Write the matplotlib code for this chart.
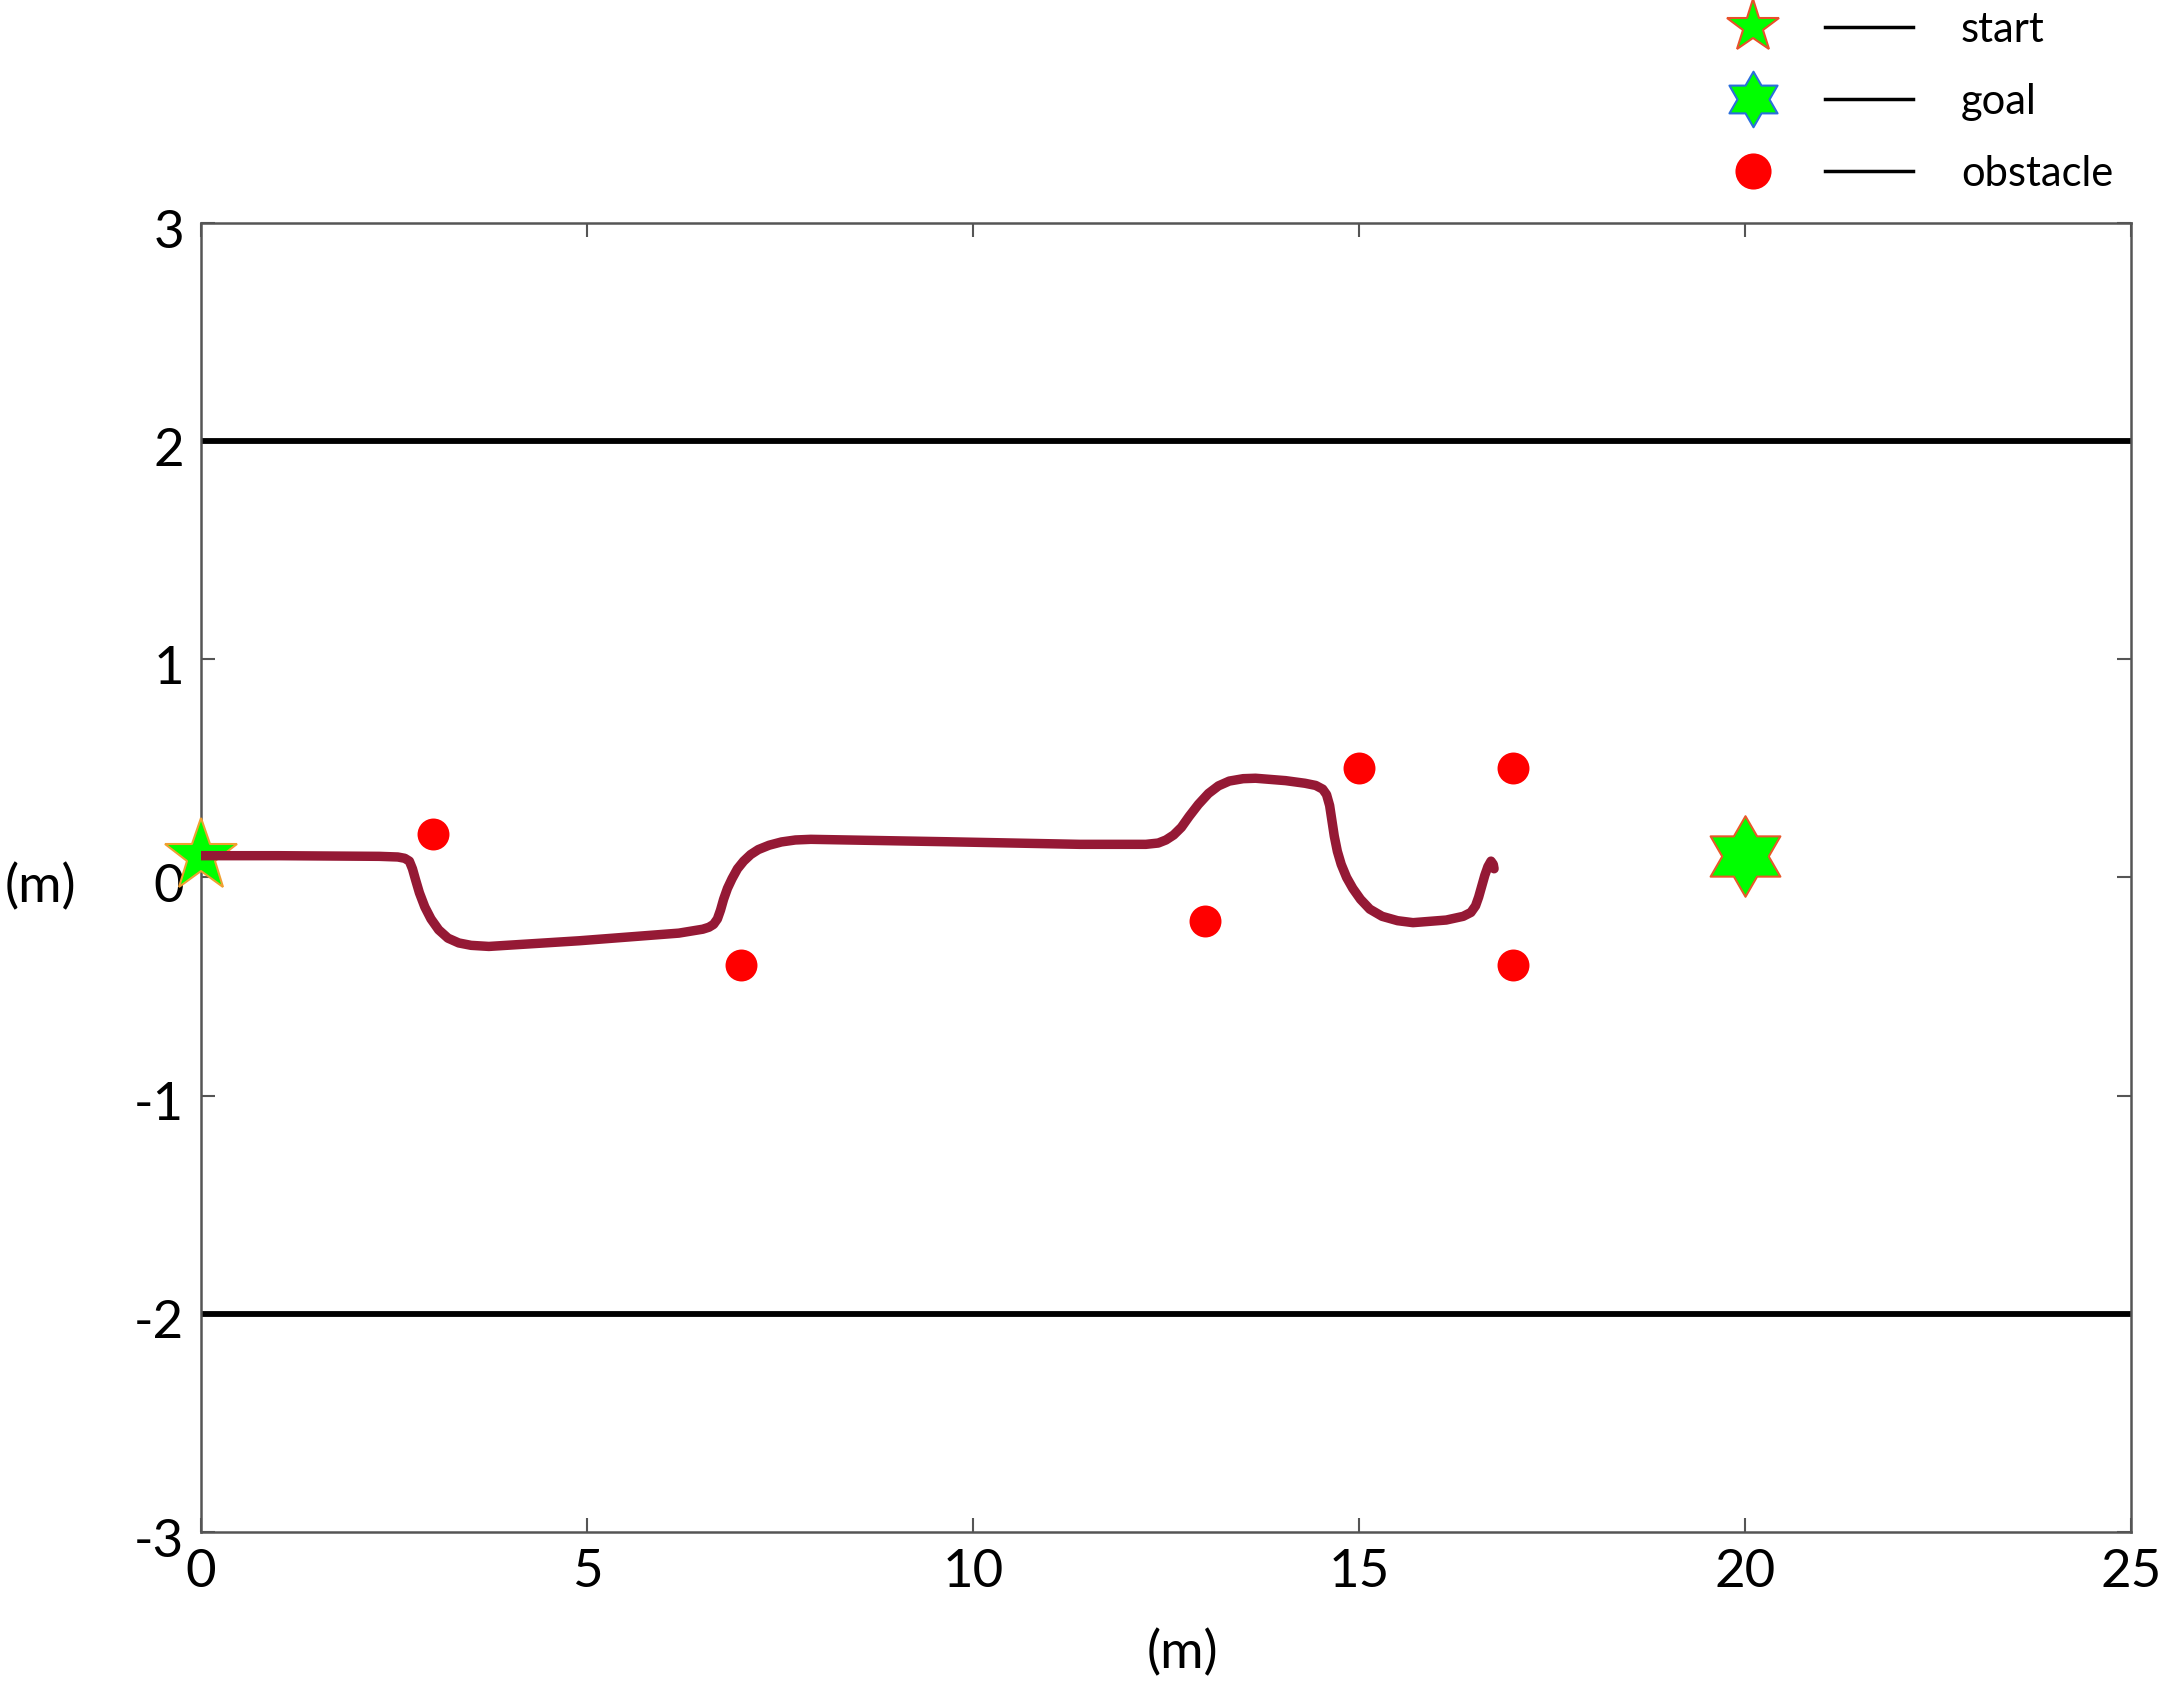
import matplotlib
matplotlib.use("Agg")
import matplotlib.pyplot as plt
import numpy as np
from matplotlib.legend_handler import HandlerTuple
from matplotlib.lines import Line2D
from matplotlib.path import Path
from matplotlib.transforms import ScaledTranslation

plt.rcParams["font.family"] = ["Lato", "DejaVu Sans"]
plt.rcParams["axes.unicode_minus"] = False

# planned trajectory
path_x = [0.0, 1.0, 2.31, 2.55, 2.64, 2.70, 2.74, 2.78, 2.83, 2.90, 2.98, 3.08,
          3.20, 3.34, 3.50, 3.73, 4.90, 6.19, 6.50, 6.58, 6.64, 6.69, 6.73, 6.77,
          6.82, 6.88, 6.95, 7.03, 7.12, 7.22, 7.36, 7.52, 7.70, 7.90, 9.65, 11.38,
          12.24, 12.40, 12.50, 12.60, 12.70, 12.80, 12.92, 13.05, 13.18, 13.32,
          13.50, 13.66, 14.05, 14.30, 14.44, 14.53, 14.58, 14.62, 14.65, 14.68,
          14.72, 14.77, 14.84, 14.92, 15.02, 15.14, 15.30, 15.50, 15.70, 16.13,
          16.35, 16.45, 16.51, 16.55, 16.59, 16.63, 16.67, 16.71, 16.74, 16.75]
path_y = [0.10, 0.10, 0.097, 0.094, 0.088, 0.075, 0.04, -0.01, -0.07, -0.135, -0.19, -0.24,
          -0.278, -0.300, -0.311, -0.316, -0.29, -0.255, -0.237, -0.228, -0.215, -0.19, -0.15, -0.10,
          -0.05, -0.005, 0.04, 0.075, 0.105, 0.128, 0.148, 0.163, 0.172, 0.175, 0.164, 0.152,
          0.152, 0.158, 0.172, 0.195, 0.23, 0.28, 0.335, 0.385, 0.42, 0.442,
          0.453, 0.455, 0.444, 0.432, 0.422, 0.405, 0.38, 0.33, 0.26, 0.19,
          0.12, 0.06, 0.0, -0.05, -0.10, -0.145, -0.178, -0.198, -0.207, -0.195,
          -0.178, -0.160, -0.13, -0.09, -0.04, 0.01, 0.05, 0.075, 0.06, 0.04]

obstacle_x = [3, 7, 13, 15, 17, 17]
obstacle_y = [0.2, -0.4, -0.2, 0.5, 0.5, -0.4]
start_x, start_y = 0, 0.1
goal_x, goal_y = 20, 0.1
road_y = [2, -2]

x_ticks = [0, 5, 10, 15, 20, 25]
y_ticks = [-3, -2, -1, 0, 1, 2, 3]
legend_labels = ["start", "goal", "obstacle"]

LIME = "#00ff00"
PATH_COLOR = "#951935"
AXIS_GREY = "#555555"


def hexagram():
    # six-pointed star, point up
    k = np.arange(12)
    ang = np.pi / 2 + k * np.pi / 6
    r = np.where(k % 2 == 0, 1.0, 1 / np.sqrt(3))
    verts = np.column_stack([r * np.cos(ang), r * np.sin(ang)])
    verts = np.vstack([verts, verts[:1]])
    return Path(verts, closed=True)


HEX = hexagram()

fig = plt.figure(figsize=(21.65, 16.82), dpi=100)
ax = fig.add_axes([0.0928, 0.0892, 0.8915, 0.7782])

for y in road_y:
    ax.axhline(y, color="black", lw=4.2, zorder=2)

ax.plot(obstacle_x, obstacle_y, ls="none", marker="o", ms=23,
        mfc="#ff0000", mec="none", zorder=3)
ax.plot([start_x], [start_y], ls="none", marker="*", ms=55, mfc=LIME,
        mec="#f0a030", mew=1.5, zorder=3, clip_on=False)
ax.plot([goal_x], [goal_y], ls="none", marker=HEX, ms=58, mfc=LIME,
        mec="#e8582a", mew=1.5, zorder=3)
ax.plot(path_x, path_y, color=PATH_COLOR, lw=6.8, solid_capstyle="round",
        solid_joinstyle="round", zorder=4)

ax.set_xlim(0, 25)
ax.set_ylim(-3, 3)
ax.set_xticks(x_ticks)
ax.set_xticklabels([str(v) for v in x_ticks])
ax.set_yticks(y_ticks)
ax.set_yticklabels([str(v) for v in y_ticks])
ax.tick_params(direction="in", length=10, width=1.5, color=AXIS_GREY,
               top=True, right=True, labelsize=38, pad=12)
for sp in ax.spines.values():
    sp.set_color(AXIS_GREY)
    sp.set_linewidth(1.8)

# y tick labels sit a touch below their ticks in the original
shift = ScaledTranslation(0, -4 / 72, fig.dpi_scale_trans)
for lab in ax.get_yticklabels():
    lab.set_transform(lab.get_transform() + shift)

ax.set_xlabel("(m)", fontsize=38)
ax.xaxis.set_label_coords(0.5083, -0.0924)
ax.xaxis.label.set_va("center")
ax.set_ylabel("(m)", fontsize=38, rotation=0)
ax.yaxis.set_label_coords(-0.0834, 0.4927)
ax.yaxis.label.set_ha("center")
ax.yaxis.label.set_va("center")

# legend: marker, then a short black line, then the label
seg = Line2D([], [], color="black", lw=2.5)
handles = [
    (Line2D([], [], ls="none", marker="*", ms=40, mfc=LIME, mec="#e8502a", mew=1.5), seg),
    (Line2D([], [], ls="none", marker=HEX, ms=40, mfc=LIME, mec="#2a6fdc", mew=1.5), seg),
    (Line2D([], [], ls="none", marker="o", ms=26, mfc="#ff0000", mec="none"), seg),
]
fs_px = 30 * 100 / 72
fig.legend(handles, legend_labels,
           handler_map={tuple: HandlerTuple(ndivide=2, pad=28 / fs_px)},
           loc="upper left", bbox_to_anchor=(1709 / 2165, 1 - 11 / 1682),
           frameon=False, fontsize=30, handlelength=204 / fs_px,
           handletextpad=48 / fs_px, borderpad=0, borderaxespad=0,
           labelspacing=0.81)

fig.savefig("out.png", dpi=100)
